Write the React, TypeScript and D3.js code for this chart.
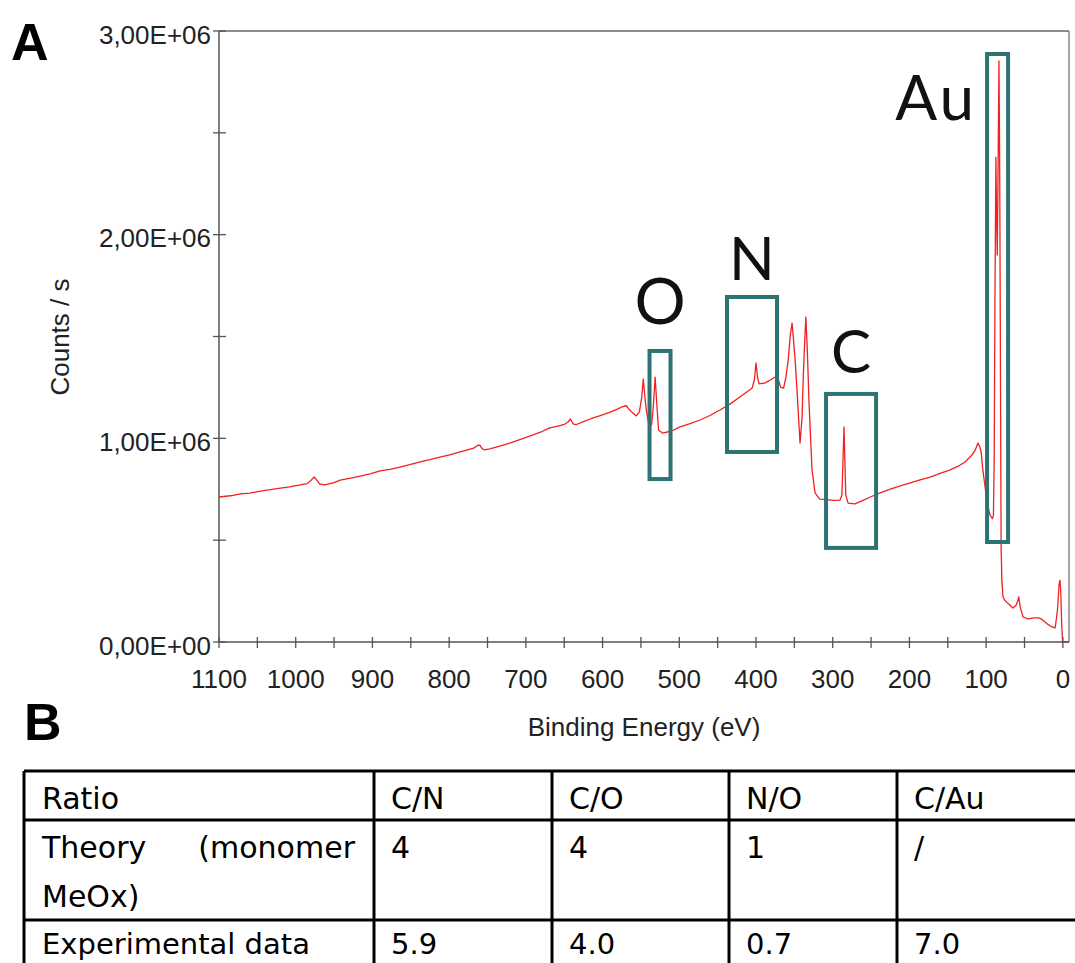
import React from 'react';
import * as d3 from 'd3';

// XPS survey spectrum (binding energy in eV, counts in 1e6 / s)
const bindingEnergy = [
  1100, 1085, 1072, 1060, 1046, 1033, 1020, 1008, 994, 985, 981, 976, 972, 969, 962, 950, 942, 930,
  916, 903, 890, 877, 864, 850, 838, 825, 812, 798, 786, 775, 768, 763, 760, 757, 754, 747, 734, 721,
  707, 695, 681, 669, 658, 650, 645, 642, 638, 634, 625, 616, 603, 590, 580, 575, 569, 565, 562, 556,
  552, 549, 547, 545, 543, 539, 536, 534, 531.5, 529, 527, 522, 510, 499, 486, 473, 460, 447, 434, 421,
  413, 405, 402, 400, 398, 396, 388, 382, 375, 371, 368, 364, 361, 358, 355.5, 353, 351, 349, 346,
  342.6, 340, 338.5, 336.5, 335, 333, 331, 327, 323, 317, 310, 300, 290.5, 288, 285.3, 283, 280, 271,
  262, 251, 238, 225, 212, 199, 186, 173, 160, 147, 137, 127.5, 118.5, 114, 110.6, 108, 106.5, 104,
  100, 97.5, 95, 92, 90.5, 89.5, 88.5, 87.3, 86.5, 85.5, 84.5, 83.3, 82.3, 81.3, 80.5, 79.5, 78, 76,
  72, 65, 61, 59, 57.5, 55.5, 52, 45, 38, 32, 28, 20, 14, 10, 7, 5, 3.8, 2.8, 1.5, 0.3, -8,
];
const countsM = [
  0.712, 0.718, 0.727, 0.731, 0.741, 0.748, 0.756, 0.762, 0.771, 0.778, 0.79, 0.81, 0.792, 0.776, 0.771, 0.783, 0.795, 0.803,
  0.815, 0.826, 0.84, 0.848, 0.859, 0.872, 0.884, 0.895, 0.908, 0.92, 0.933, 0.945, 0.952, 0.965, 0.967, 0.95, 0.943, 0.948, 0.962, 0.977,
  0.995, 1.011, 1.03, 1.051, 1.06, 1.068, 1.08, 1.095, 1.07, 1.068, 1.082, 1.095, 1.112, 1.129, 1.145, 1.154, 1.16, 1.14, 1.129, 1.11,
  1.13, 1.2, 1.291, 1.21, 1.139, 1.051, 1.07, 1.15, 1.301, 1.15, 1.041, 1.026, 1.036, 1.056, 1.072, 1.09, 1.112, 1.139, 1.168, 1.203,
  1.225, 1.247, 1.29, 1.37, 1.3, 1.267, 1.272, 1.285, 1.301, 1.29, 1.252, 1.247, 1.3, 1.385, 1.5, 1.566, 1.48, 1.385, 1.2,
  0.977, 1.1, 1.29, 1.48, 1.596, 1.42, 1.188, 0.845, 0.732, 0.702, 0.7, 0.695, 0.697, 0.722, 1.056, 0.722, 0.682, 0.678,
  0.693, 0.712, 0.732, 0.751, 0.766, 0.781, 0.796, 0.81, 0.828, 0.845, 0.862, 0.884, 0.918, 0.945, 0.977, 0.955, 0.933, 0.835,
  0.722, 0.663, 0.624, 0.605, 0.62, 0.9, 1.7, 2.381, 2.1, 1.9, 2.3, 2.853, 2.3, 1.3, 0.466, 0.3, 0.221, 0.206,
  0.191, 0.167, 0.18, 0.2, 0.221, 0.17, 0.123, 0.113, 0.118, 0.118, 0.113, 0.088, 0.074, 0.069, 0.157, 0.28, 0.304, 0.255, 0.083, 0, 0,
];

const xTicks = d3.range(1100, -1, -50);
const xLabelValues = d3.range(1100, -1, -100);
const yTicks = [0, 0.5, 1, 1.5, 2, 2.5, 3];
const yLabelValues = [0, 1, 2, 3];
const yTickLabels = ['0,00E+00', '1,00E+06', '2,00E+06', '3,00E+06'];

// highlighted regions (eV range, counts range in 1e6)
const regionNames = ['O', 'N', 'C', 'Au'];
const regionFrom = [538.8, 437.8, 308.7, 98.8];
const regionTo = [511.4, 372.6, 243.5, 71.4];
const regionLow = [0.8, 0.933, 0.462, 0.491];
const regionHigh = [1.429, 1.694, 1.218, 2.887];

// ratio table
const tableHeader = ['Ratio', 'C/N', 'C/O', 'N/O', 'C/Au'];
const theoryRow = ['4', '4', '1', '/'];
const experimentalRow = ['5.9', '4.0', '0.7', '7.0'];

const W = 1075;
const H = 963;
const left = 219, right = 1069, top = 31, bottom = 642;

export default function App() {
  const x = d3.scaleLinear().domain([1100, -8]).range([left, right]);
  const y = d3.scaleLinear().domain([0, 3]).range([bottom, top]);

  const line = d3.line<number>()
    .x((_, i) => x(bindingEnergy[i]))
    .y((d) => y(d));

  const axisFont = '"Liberation Sans", Arial, sans-serif';
  const tableFont = '"DejaVu Sans", sans-serif';
  const axisColor = '#555';

  const labelDy = [-27, -17, -21, 0];
  const labelSize = [64, 60, 60, 62];

  const colX = [24, 374, 552, 729, 897];
  const rowY = [771, 820, 920];

  return (
    <svg width={W} height={H} style={{ position: 'absolute', left: 0, top: 0, display: 'block', background: '#fff' }}>
      {/* panel letters */}
      <text x={11} y={60} fontFamily={axisFont} fontWeight="bold" fontSize={52} fill="#000">A</text>
      <text x={24} y={740} fontFamily={axisFont} fontWeight="bold" fontSize={52} fill="#000">B</text>

      {/* frame */}
      <line x1={left} x2={right} y1={top} y2={top} stroke="#666" strokeWidth={1.3} />
      <line x1={right} x2={right} y1={top} y2={bottom} stroke="#777" strokeWidth={1.3} />

      {/* spectrum */}
      <path d={line(countsM) || ''} fill="none" stroke="#f22020" strokeWidth={1.3} strokeLinejoin="round" />

      {/* axes */}
      <line x1={left} x2={left} y1={top} y2={bottom} stroke={axisColor} strokeWidth={1.5} />
      <line x1={left} x2={right} y1={bottom} y2={bottom} stroke={axisColor} strokeWidth={1.5} />
      {yTicks.map((t) => (
        <line key={'yt' + t} x1={left - 6} x2={left + 7} y1={y(t)} y2={y(t)} stroke={axisColor} strokeWidth={1.3} />
      ))}
      {yLabelValues.map((t, i) => (
        <text key={'yl' + t} x={211} y={y(t) + 12.5} textAnchor="end" fontFamily={axisFont} fontSize={26} fill="#222">
          {yTickLabels[i]}
        </text>
      ))}
      {xTicks.map((t) => (
        <line key={'xt' + t} x1={x(t)} x2={x(t)} y1={bottom - 5} y2={bottom + 6} stroke={axisColor} strokeWidth={1.3} />
      ))}
      {xLabelValues.map((t) => (
        <text key={'xl' + t} x={x(t)} y={688} textAnchor="middle" fontFamily={axisFont} fontSize={26} fill="#222">
          {t}
        </text>
      ))}
      <text x={644} y={736} textAnchor="middle" fontFamily={axisFont} fontSize={26} fill="#222">Binding Energy (eV)</text>
      <text
        transform="translate(60,337) rotate(-90)"
        textAnchor="middle"
        dominantBaseline="central"
        fontFamily={axisFont}
        fontSize={26}
        fill="#222"
      >
        Counts / s
      </text>

      {/* element regions */}
      {regionNames.map((name, i) => {
        const x0 = x(regionFrom[i]);
        const x1 = x(regionTo[i]);
        const y0 = y(regionHigh[i]);
        const y1 = y(regionLow[i]);
        const isAu = name === 'Au';
        return (
          <g key={name}>
            <rect x={x0} y={y0} width={x1 - x0} height={y1 - y0} fill="none" stroke="#2d7373" strokeWidth={4} />
            <text
              x={isAu ? x0 - 10 : (x0 + x1) / 2}
              y={isAu ? 120 : y0 + labelDy[i]}
              textAnchor={isAu ? 'end' : 'middle'}
              fontFamily="Lato, 'Open Sans', sans-serif"
              fontSize={labelSize[i]}
              letterSpacing={isAu ? 3 : 0}
              fill="#111"
            >
              {name}
            </text>
          </g>
        );
      })}

      {/* table */}
      <g stroke="#000" strokeWidth={3}>
        {rowY.map((ry) => (
          <line key={'r' + ry} x1={colX[0]} x2={W} y1={ry} y2={ry} />
        ))}
        {colX.map((cx) => (
          <line key={'c' + cx} x1={cx} x2={cx} y1={rowY[0]} y2={H} />
        ))}
      </g>
      <g fontFamily={tableFont} fontSize={30} fill="#000">
        {tableHeader.map((h, i) => (
          <text key={'h' + i} x={colX[i] + (i === 0 ? 18 : 17)} y={809}>{h}</text>
        ))}
        <text x={42} y={858}>Theory</text>
        <text x={355} y={858} textAnchor="end">(monomer</text>
        <text x={42} y={907}>MeOx)</text>
        {theoryRow.map((v, i) => (
          <text key={'t' + i} x={colX[i + 1] + 17} y={858}>{v}</text>
        ))}
        <text x={42} y={954} fontSize={29}>Experimental data</text>
        {experimentalRow.map((v, i) => (
          <text key={'e' + i} x={colX[i + 1] + 17} y={954} fontSize={29}>{v}</text>
        ))}
      </g>
    </svg>
  );
}
